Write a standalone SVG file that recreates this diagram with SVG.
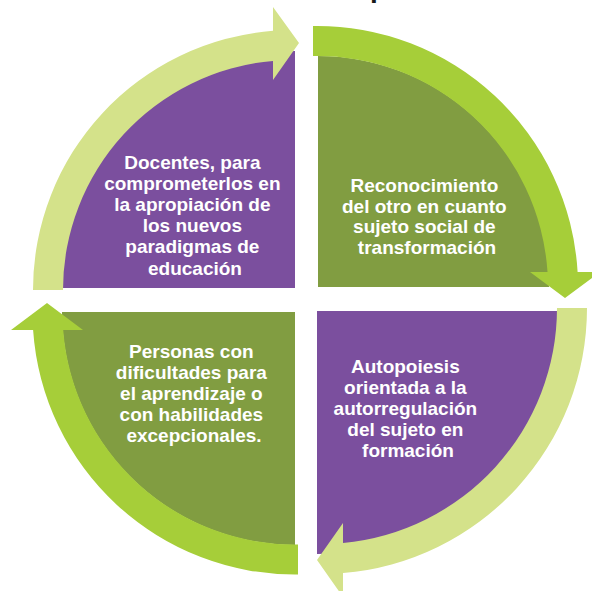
<svg xmlns="http://www.w3.org/2000/svg" width="592" height="591" viewBox="0 0 592 591">
  <style>
    .purple { fill: #7B4F9E; }
    .green { fill: #819D41; }
    .light { fill: #D4E28A; }
    .lime { fill: #A6CE39; }
    .label { font-family: "Liberation Sans", Arial, sans-serif; font-weight: bold; font-size: 19px; fill: #FFFFFF; text-anchor: middle; }
    .title { font-family: "Liberation Sans", Arial, sans-serif; font-weight: bold; font-size: 28px; fill: #1A1A1A; }
  </style>
  <rect width="592" height="591" fill="#FFFFFF"/>
  <text class="title" x="370" y="-3">p</text>

  <g id="node-docentes">
    <path class="purple" d="M 295,288 L 58,288 A 237 237 0 0 1 295,51 Z"/>
    <text class="label">
      <tspan x="195" y="168.5">Docentes, para</tspan>
      <tspan x="195" y="189.7">comprometerlos en</tspan>
      <tspan x="195" y="210.9">la apropiación de</tspan>
      <tspan x="195" y="232.1">los nuevos</tspan>
      <tspan x="195" y="253.3">paradigmas de</tspan>
      <tspan x="195" y="274.5">educación</tspan>
    </text>
  </g>

  <g id="node-reconocimiento">
    <path class="green" d="M 318,287 L 318,56 A 231 231 0 0 1 549,287 Z"/>
    <text class="label">
      <tspan x="427" y="192">Reconocimiento</tspan>
      <tspan x="427" y="212.6">del otro en cuanto</tspan>
      <tspan x="427" y="233.2">sujeto social de</tspan>
      <tspan x="427" y="253.8">transformación</tspan>
    </text>
  </g>

  <g id="node-personas">
    <path class="green" d="M 295,312 L 295,545 A 233 233 0 0 1 62,312 Z"/>
    <text class="label">
      <tspan x="194" y="358">Personas con</tspan>
      <tspan x="194" y="379">dificultades para</tspan>
      <tspan x="194" y="400">el aprendizaje o</tspan>
      <tspan x="194" y="421">con habilidades</tspan>
      <tspan x="194" y="442">excepcionales.</tspan>
    </text>
  </g>

  <g id="node-autopoiesis">
    <path class="purple" d="M 317,311 L 560,311 A 243 243 0 0 1 317,554 Z"/>
    <text class="label">
      <tspan x="408" y="373">Autopoiesis</tspan>
      <tspan x="408" y="394">orientada a la</tspan>
      <tspan x="408" y="415">autorregulación</tspan>
      <tspan x="408" y="436">del sujeto en</tspan>
      <tspan x="408" y="457">formación</tspan>
    </text>
  </g>

  <g id="connectors">
    <path class="light" d="M 63,290 L 33,290 A 260 260 0 0 1 273,30.8 L 273,7 L 299,43 L 273,80 L 273,60.9 A 230 230 0 0 0 63,290 Z"/>
    <path class="lime" d="M 313,56 L 313,26 A 261 261 0 0 1 577.6,272 L 600,272 L 565,298 L 530,272 L 547.5,272 A 231 231 0 0 0 313,56 Z"/>
    <path class="light" d="M 557,308 L 587,308 A 266 266 0 0 1 343,573.1 L 343,597 L 317,560 L 343,523 L 343,543 A 236 236 0 0 0 557,308 Z"/>
    <path class="lime" d="M 298,544.5 L 298,574.5 A 262.5 262.5 0 0 1 33.1,330 L 11,330 L 47,303 L 83,330 L 63.2,330 A 232.5 232.5 0 0 0 298,544.5 Z"/>
  </g>
</svg>
